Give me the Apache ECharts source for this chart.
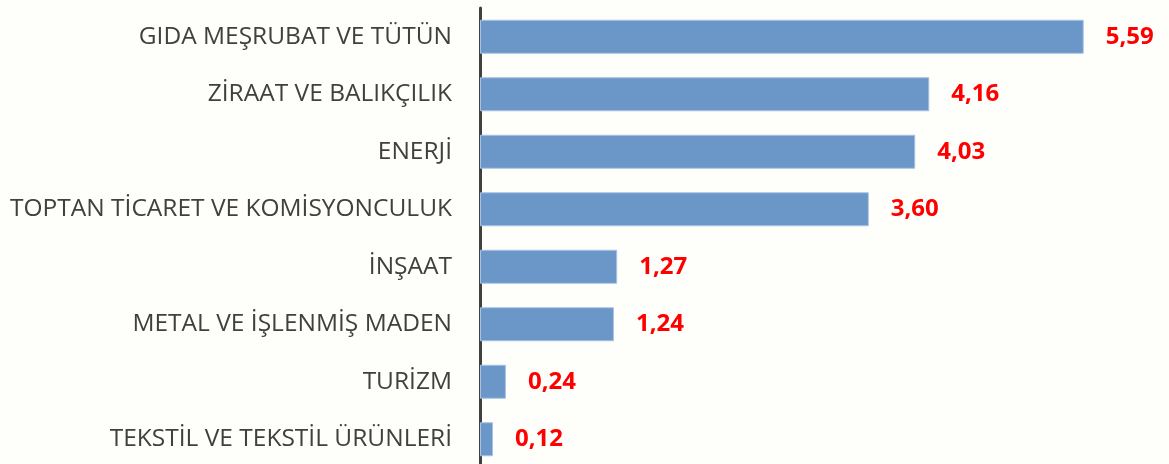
<!DOCTYPE html>
<html>
<head>
<meta charset="utf-8">
<script src="https://cdn.jsdelivr.net/npm/echarts@6/dist/echarts.min.js"></script>
<style>
  * { margin: 0; padding: 0; }
  body { background: #fefefb; }
  #main { width: 1169px; height: 464px; }
</style>
</head>
<body>
<div id="main"></div>
<script>
var sectors = [
  'GIDA MEŞRUBAT VE TÜTÜN',
  'ZİRAAT VE BALIKÇILIK',
  'ENERJİ',
  'TOPTAN TİCARET VE KOMİSYONCULUK',
  'İNŞAAT',
  'METAL VE İŞLENMİŞ MADEN',
  'TURİZM',
  'TEKSTİL VE TEKSTİL ÜRÜNLERİ'
];
var values = [5.59, 4.16, 4.03, 3.60, 1.27, 1.24, 0.24, 0.12];

var chart = echarts.init(document.getElementById('main'));
chart.setOption({
  backgroundColor: '#fefefb',
  animation: false,
  grid: { left: 480, top: 8, width: 648, height: 460, outerBoundsMode: 'none' },
  xAxis: {
    type: 'value', min: 0, max: 6, show: false
  },
  yAxis: {
    type: 'category',
    inverse: true,
    data: sectors,
    axisLine: { show: true, lineStyle: { color: '#404040', width: 3 } },
    axisTick: { show: false },
    axisLabel: {
      color: '#404040', fontSize: 24.5, margin: 28,
      fontFamily: 'Open Sans'
    }
  },
  series: [{
    type: 'bar',
    data: values,
    barWidth: 34,
    itemStyle: { color: '#6a96c8', borderColor: '#a8c2e2', borderWidth: 1 },
    label: {
      show: true, position: 'right', distance: 22,
      color: '#ff0000', fontWeight: 'bold', fontSize: 24,
      fontFamily: 'Open Sans',
      formatter: function (p) { return p.value.toFixed(2).replace('.', ','); }
    }
  }]
});
</script>
</body>
</html>
